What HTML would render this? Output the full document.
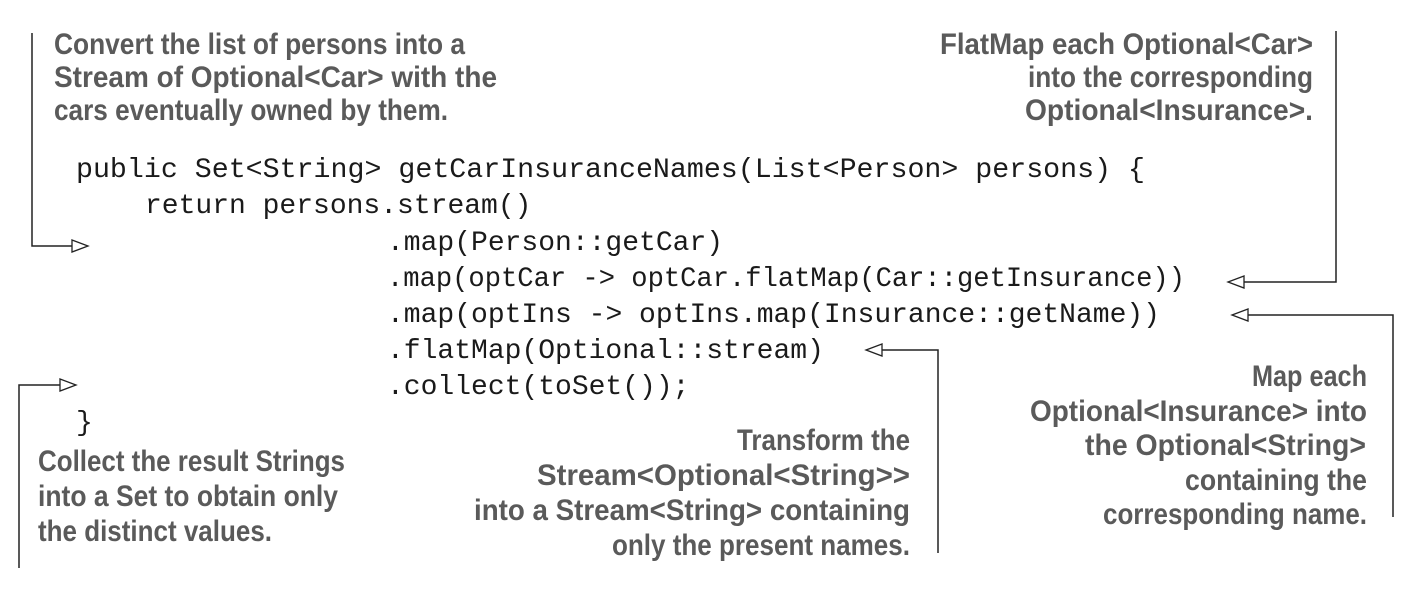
<!DOCTYPE html>
<html><head><meta charset="utf-8"><style>
html,body{margin:0;padding:0;background:#fff;}
svg{display:block;}
.l{font-family:"Liberation Sans Narrow","Liberation Sans",sans-serif;font-weight:bold;font-size:30px;fill:#5a5a5a;}
.c{font-family:"Liberation Mono",monospace;font-size:28px;fill:#1a1a1a;white-space:pre;}
.ln{stroke:#222;stroke-width:1.5;fill:none;}
.ah{stroke:#222;stroke-width:1.3;fill:#fff;}
</style></head><body>
<svg width="1410" height="592" viewBox="0 0 1410 592" xmlns="http://www.w3.org/2000/svg">
<text class="l" x="54" y="54" textLength="411" lengthAdjust="spacingAndGlyphs">Convert the list of persons into a</text>
<text class="l" x="54" y="87" textLength="443" lengthAdjust="spacingAndGlyphs">Stream of Optional&lt;Car&gt; with the</text>
<text class="l" x="54" y="120" textLength="394" lengthAdjust="spacingAndGlyphs">cars eventually owned by them.</text>

<text class="l" x="940" y="54" textLength="373" lengthAdjust="spacingAndGlyphs">FlatMap each Optional&lt;Car&gt;</text>
<text class="l" x="1028" y="87" textLength="285" lengthAdjust="spacingAndGlyphs">into the corresponding</text>
<text class="l" x="1025" y="120" textLength="288" lengthAdjust="spacingAndGlyphs">Optional&lt;Insurance&gt;.</text>

<text class="l" x="1252" y="386" textLength="115" lengthAdjust="spacingAndGlyphs">Map each</text>
<text class="l" x="1030" y="421" textLength="337" lengthAdjust="spacingAndGlyphs">Optional&lt;Insurance&gt; into</text>
<text class="l" x="1085" y="455" textLength="281" lengthAdjust="spacingAndGlyphs">the Optional&lt;String&gt;</text>
<text class="l" x="1185" y="490" textLength="182" lengthAdjust="spacingAndGlyphs">containing the</text>
<text class="l" x="1103" y="524" textLength="264" lengthAdjust="spacingAndGlyphs">corresponding name.</text>

<text class="l" x="737" y="450" textLength="173" lengthAdjust="spacingAndGlyphs">Transform the</text>
<text class="l" x="537" y="485" textLength="373" lengthAdjust="spacingAndGlyphs">Stream&lt;Optional&lt;String&gt;&gt;</text>
<text class="l" x="474" y="520" textLength="436" lengthAdjust="spacingAndGlyphs">into a Stream&lt;String&gt; containing</text>
<text class="l" x="612" y="555" textLength="298" lengthAdjust="spacingAndGlyphs">only the present names.</text>

<text class="l" x="38" y="471" textLength="307" lengthAdjust="spacingAndGlyphs">Collect the result Strings</text>
<text class="l" x="38" y="506" textLength="300" lengthAdjust="spacingAndGlyphs">into a Set to obtain only</text>
<text class="l" x="38" y="541" textLength="234" lengthAdjust="spacingAndGlyphs">the distinct values.</text>

<text class="c" x="76" y="177" textLength="1069" lengthAdjust="spacingAndGlyphs">public Set&lt;String&gt; getCarInsuranceNames(List&lt;Person&gt; persons) {</text>
<text class="c" x="145" y="213">return persons.stream()</text>
<text class="c" x="387" y="250">.map(Person::getCar)</text>
<text class="c" x="387" y="286" textLength="798" lengthAdjust="spacingAndGlyphs">.map(optCar -&gt; optCar.flatMap(Car::getInsurance))</text>
<text class="c" x="387" y="322" textLength="773" lengthAdjust="spacingAndGlyphs">.map(optIns -&gt; optIns.map(Insurance::getName))</text>
<text class="c" x="387" y="358">.flatMap(Optional::stream)</text>
<text class="c" x="387" y="394">.collect(toSet());</text>
<text class="c" x="76" y="430">}</text>

<polyline class="ln" points="32,33 32,246 72,246"/>
<polygon class="ah" points="72,240 88,246 72,252"/>

<polyline class="ln" points="1336,31 1336,282 1244,282"/>
<polygon class="ah" points="1244,276 1228,282 1244,288"/>

<polyline class="ln" points="1393,517 1393,315 1248,315"/>
<polygon class="ah" points="1248,309 1232,315 1248,321"/>

<polyline class="ln" points="938,553 938,350 882,350"/>
<polygon class="ah" points="882,344 866,350 882,356"/>

<polyline class="ln" points="19,568 19,385 60,385"/>
<polygon class="ah" points="60,379 76,385 60,391"/>
</svg>
</body></html>
